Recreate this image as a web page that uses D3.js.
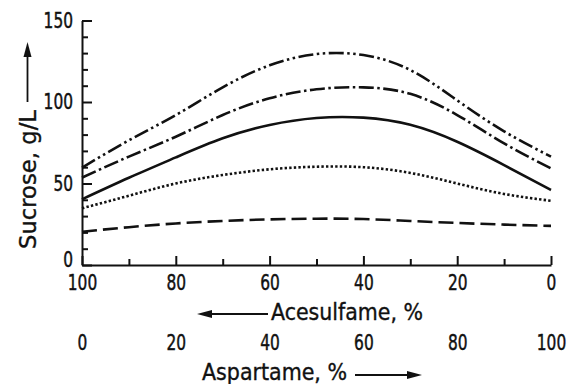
<!DOCTYPE html>
<html>
<head>
<meta charset="utf-8">
<script src="https://cdn.jsdelivr.net/npm/d3@7"></script>
<style>
  html, body { margin: 0; padding: 0; background: #fff; }
  svg { display: block; }
  .tick text { font-family: "DejaVu Sans Condensed", "DejaVu Sans", sans-serif; font-size: 21px; fill: #111; stroke: #111; stroke-width: 0.45px; }
  .title { font-family: "DejaVu Sans Condensed", "DejaVu Sans", sans-serif; font-size: 23px; fill: #111; stroke: #111; stroke-width: 0.35px; }
</style>
</head>
<body>
<svg id="chart" width="573" height="384"></svg>
<script>
// Data
const acesulfame = [100, 90, 80, 70, 60, 50, 40, 30, 20, 10, 0];
const sucroseDashDotDot = [59.7, 76.5, 92, 109, 122.5, 129.4, 128.8, 119.6, 101, 82, 66.5];
const sucroseDashDot    = [53.6, 66.5, 78.7, 92, 102.3, 107.8, 109, 105, 92, 74.6, 59.3];
const sucroseSolid      = [40.3, 53.5, 66, 77.7, 85.9, 90.2, 90.4, 86, 75.6, 61.3, 46];
const sucroseDotted     = [34.8, 42.5, 50, 55.2, 58.7, 60.3, 60, 56.5, 50, 43.6, 39.4];
const sucroseDashed     = [20.4, 23.2, 25.5, 27, 28, 28.4, 28.2, 27, 25.8, 24.8, 24];

const acesulfameTicks = [100, 80, 60, 40, 20, 0];
const acesulfameMinor = [90, 70, 50, 30, 10];
const aspartameTicks = [0, 20, 40, 60, 80, 100];
const sucroseTicks = [0, 50, 100, 150];
const sucroseMinor = [10, 20, 30, 40, 60, 70, 80, 90, 110, 120, 130, 140];

const xTitle1 = "Acesulfame, %";
const xTitle2 = "Aspartame, %";
const yTitle = "Sucrose, g/L";

const series = [
  { values: sucroseDashDotDot, dash: "15,3.5,2.5,3.5,2.5,3.5" },
  { values: sucroseDashDot, dash: "15,3.5,2.5,3.5" },
  { values: sucroseSolid, dash: null },
  { values: sucroseDotted, dash: "2.4,2.2" },
  { values: sucroseDashed, dash: "15,6" }
];

const svg = d3.select("#chart");
const mLeft = 82, mRight = 551, mTop = 20.5, mBottom = 265;

const x = d3.scaleLinear().domain([100, 0]).range([mLeft, mRight]);
const xAsp = d3.scaleLinear().domain([0, 100]).range([mLeft, mRight]);
const y = d3.scaleLinear().domain([0, 150]).range([mBottom, mTop]);

const ink = "#111";
const digitW = 9.8;
const narrow = sel => sel.selectAll(".tick text")
  .attr("textLength", function () { return this.textContent.length * digitW; })
  .attr("lengthAdjust", "spacingAndGlyphs");

// X axis (acesulfame) minor ticks
svg.append("g")
  .attr("transform", `translate(0,${mBottom})`)
  .call(d3.axisBottom(x).tickValues(acesulfameMinor).tickSizeInner(-6).tickSizeOuter(0).tickFormat(""))
  .call(g => g.select(".domain").remove())
  .call(g => g.selectAll(".tick line").attr("stroke", ink).attr("stroke-width", 2));

// X axis (acesulfame) major
svg.append("g")
  .attr("transform", `translate(0,${mBottom})`)
  .call(d3.axisBottom(x).tickValues(acesulfameTicks).tickSizeInner(-9).tickSizeOuter(0).tickPadding(10))
  .call(g => g.select(".domain").attr("stroke", ink).attr("stroke-width", 2))
  .call(g => g.selectAll(".tick line").attr("stroke", ink).attr("stroke-width", 2))
  .call(narrow);

// Aspartame labels
svg.append("g")
  .attr("transform", `translate(0,${mBottom + 70})`)
  .call(d3.axisBottom(xAsp).tickValues(aspartameTicks).tickSize(0).tickPadding(0))
  .call(g => g.select(".domain").remove())
  .call(narrow);

// Y axis minor
svg.append("g")
  .attr("transform", `translate(${mLeft},0)`)
  .call(d3.axisLeft(y).tickValues(sucroseMinor).tickSizeInner(-6).tickSizeOuter(0).tickFormat(""))
  .call(g => g.select(".domain").remove())
  .call(g => g.selectAll(".tick line").attr("stroke", ink).attr("stroke-width", 2));

// Y axis major
svg.append("g")
  .attr("transform", `translate(${mLeft},0)`)
  .call(d3.axisLeft(y).tickValues(sucroseTicks).tickSizeInner(-10).tickSizeOuter(0).tickPadding(9))
  .call(g => g.select(".domain").attr("stroke", ink).attr("stroke-width", 2))
  .call(g => g.selectAll(".tick line").attr("stroke", ink).attr("stroke-width", 2))
  .call(narrow)
  .call(g => g.selectAll(".tick text").filter(d => d === 0).attr("y", -5));

// Curves
const line = d3.line()
  .x((d, i) => x(acesulfame[i]))
  .y(d => y(d))
  .curve(d3.curveNatural);

svg.append("g").selectAll("path")
  .data(series)
  .join("path")
  .attr("d", d => line(d.values))
  .attr("fill", "none")
  .attr("stroke", ink)
  .attr("stroke-width", 2.6)
  .attr("stroke-dasharray", d => d.dash);

// Titles
svg.append("text").attr("class", "title")
  .attr("x", 271).attr("y", 320)
  .attr("textLength", 152).attr("lengthAdjust", "spacingAndGlyphs")
  .text(xTitle1);
svg.append("text").attr("class", "title")
  .attr("x", 202).attr("y", 380)
  .attr("textLength", 145).attr("lengthAdjust", "spacingAndGlyphs")
  .text(xTitle2);
svg.append("text").attr("class", "title")
  .attr("transform", "translate(36,249) rotate(-90)")
  .attr("textLength", 139).attr("lengthAdjust", "spacingAndGlyphs")
  .text(yTitle);

// Arrows
function arrow(x1, y1, x2, y2) {
  const len = 15, hw = 4;
  const dx = x2 - x1, dy = y2 - y1, L = Math.hypot(dx, dy);
  const ux = dx / L, uy = dy / L;
  const bx = x2 - ux * len, by = y2 - uy * len;
  svg.append("line")
    .attr("x1", x1).attr("y1", y1).attr("x2", bx).attr("y2", by)
    .attr("stroke", ink).attr("stroke-width", 1.8);
  svg.append("path")
    .attr("d", `M${x2},${y2}L${bx - uy * hw},${by + ux * hw}L${bx + uy * hw},${by - ux * hw}Z`)
    .attr("fill", ink);
}
arrow(268, 314, 197, 314);
arrow(355, 375, 422, 375);
arrow(27.5, 102, 27.5, 42);
</script>
</body>
</html>
